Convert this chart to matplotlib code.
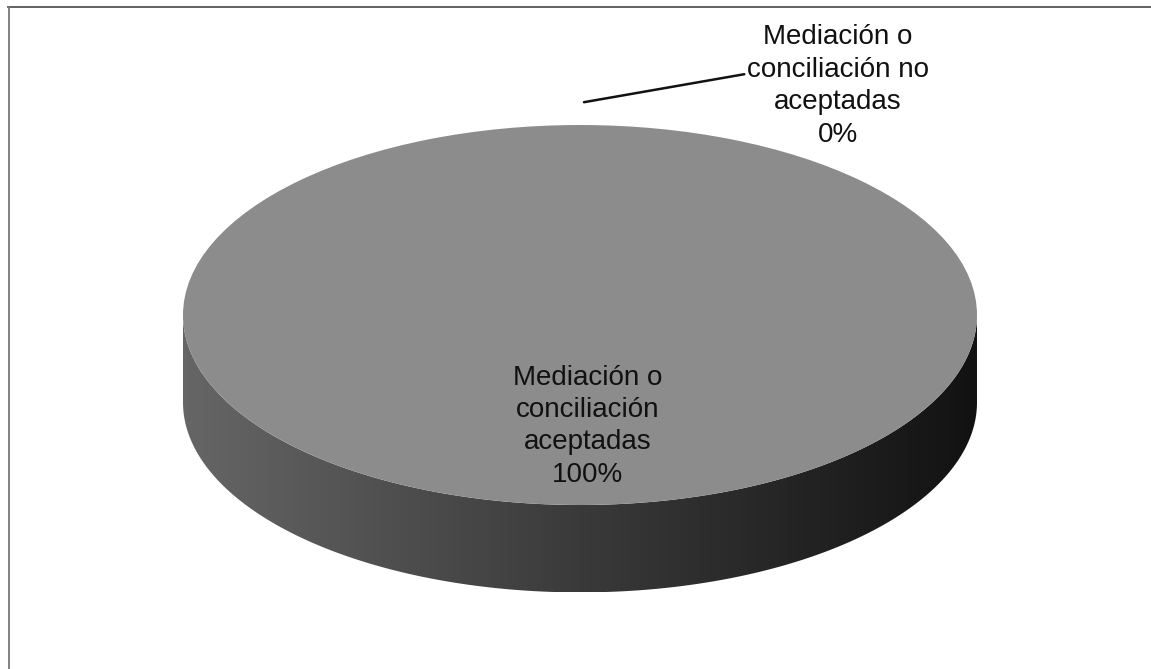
import numpy as np
import matplotlib.pyplot as plt
from matplotlib.patches import Polygon
from matplotlib.colors import LinearSegmentedColormap
from matplotlib.lines import Line2D

plt.rcParams['font.family'] = ['Liberation Sans', 'DejaVu Sans']

# data
categories = ['Mediación o\nconciliación\naceptadas', 'Mediación o\nconciliación no\naceptadas']
values = [100, 0]
pct_labels = ['100%', '0%']

# style
top_color = '#8c8c8c'
side_cmap = LinearSegmentedColormap.from_list('side', ['#666666', '#3a3a3a', '#121212'])
depth = 0.46          # thickness of the disc, in pie-radius units (vertical)

W, H = 1151, 669
fig = plt.figure(figsize=(W / 100, H / 100), dpi=100)
ax = fig.add_axes([0, 0, 1, 1])

# pixel geometry of the disc: centre (580, 315), rx 397, ry 190
cx, cy, rx, ry = 580, 315, 397, 190

########################### side of the disc ###########################
t = np.linspace(np.pi, 2 * np.pi, 200)
upper = np.column_stack([np.cos(t), np.sin(t)])
lower = np.column_stack([np.cos(t[::-1]), np.sin(t[::-1]) - depth])
side = Polygon(np.vstack([upper, lower]), closed=True, facecolor='none', edgecolor='none')
ax.add_patch(side)
grad = np.linspace(0, 1, 256).reshape(1, -1)
im = ax.imshow(grad, cmap=side_cmap, extent=(-1, 1, -1 - depth, 0), aspect='auto', zorder=1)
im.set_clip_path(side)

########################### top of the disc ###########################
wedges, _ = ax.pie(values, colors=[top_color, top_color], startangle=90, counterclock=False,
                   wedgeprops={'linewidth': 0, 'edgecolor': 'none'})
for w in wedges:
    w.set_zorder(2)

ax.set_aspect('auto')
ax.set_xlim(-cx / rx, (W - cx) / rx)
ax.set_ylim(-(H - cy) / ry, cy / ry)
ax.axis('off')

# inner label (100%)
ax.text(0.02, -0.585, categories[0] + '\n' + pct_labels[0], ha='center', va='center',
        fontsize=20, color='#111111', zorder=5, linespacing=1.32)

# outer label (0%) with leader line
ang = np.deg2rad(90)
ax.annotate(categories[1] + '\n' + pct_labels[1],
            xy=(1.0 * np.cos(ang) + 0.01, 1.12 * np.sin(ang)),
            xytext=(0.65, 1.205), textcoords='data',
            ha='center', va='center', fontsize=20, color='#111111', linespacing=1.32,
            arrowprops=dict(arrowstyle='-', color='#111111', lw=1.8,
                            shrinkA=0, shrinkB=0, relpos=(0.0, 0.6)), zorder=5)

# frame lines of the scanned chart area
fig.add_artist(Line2D([8 / W, 1], [1 - 7 / H, 1 - 7 / H], color='#555555', lw=1.3))
fig.add_artist(Line2D([9 / W, 9 / W], [0, 1 - 7 / H], color='#777777', lw=1.3))

fig.savefig('out.png', dpi=100, facecolor='white')
